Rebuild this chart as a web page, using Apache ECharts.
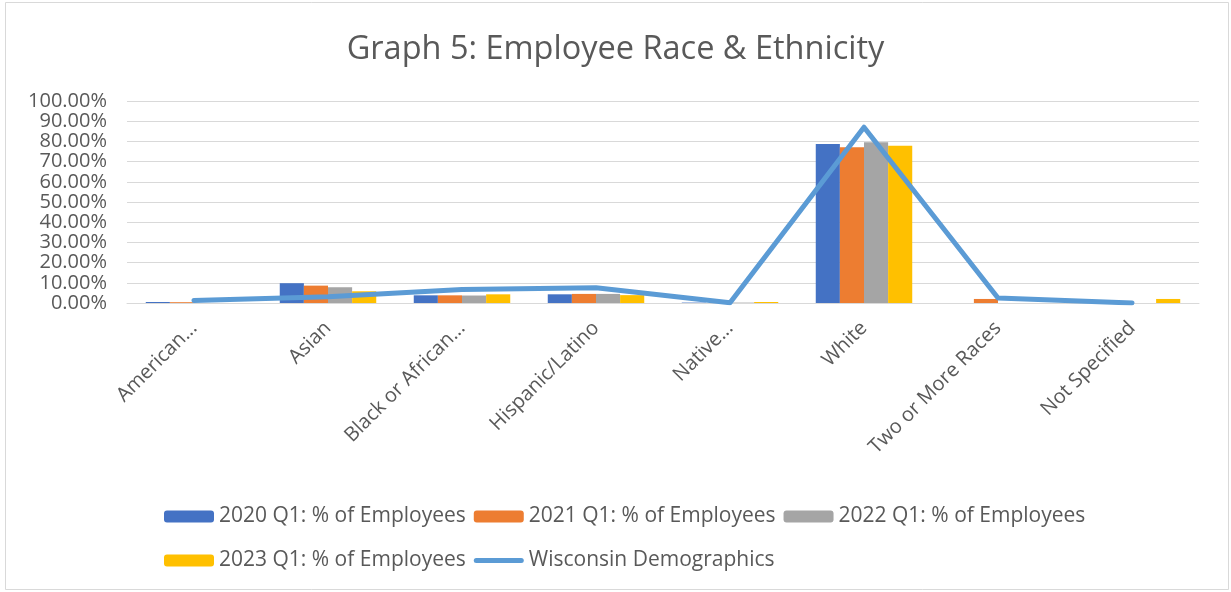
<!DOCTYPE html>
<html>
<head>
<meta charset="utf-8">
<script src="https://cdn.jsdelivr.net/npm/echarts@6/dist/echarts.min.js"></script>
<style>
  html, body { margin: 0; padding: 0; background: #fff; }
  #box { width: 1231px; height: 592px; }
</style>
</head>
<body>
<div id="box"></div>
<script>
// categories as shown on the axis (Excel truncated the long ones)
const categories = ['American...', 'Asian', 'Black or African...', 'Hispanic/Latino', 'Native...', 'White', 'Two or More Races', 'Not Specified'];

// % of employees per quarter
const q2020 = [0.5, 9.8, 3.8, 4.3, 0.2, 78.7, 0, 0];
const q2021 = [0.4, 8.6, 3.8, 4.5, 0, 77.1, 2.0, 0];
const q2022 = [0, 7.8, 3.7, 4.5, 0.2, 79.6, 0, 0];
const q2023 = [0, 5.8, 4.3, 3.9, 0.5, 77.9, 0, 2.0];

// state reference line
const wisconsin = [1.2, 3.1, 6.7, 7.6, 0.1, 87.0, 2.5, 0];

const yTicks = { min: 0, max: 100, step: 10 };

const chartDom = document.getElementById('box');
const myChart = echarts.init(chartDom);

const txt = '#595959';
const font = 'Open Sans, Noto Sans, sans-serif';
const lineIcon = 'path://M2.5,0 L47.5,0 A2.5,2.5 0 0 1 47.5,5 L2.5,5 A2.5,2.5 0 0 1 2.5,0 Z';

const bar = (name, data, color) => ({
  name: name,
  type: 'bar',
  data: data,
  barGap: '0%',
  barCategoryGap: '28%',
  itemStyle: { color: color },
  animation: false
});

const legendBase = {
  left: 159,
  itemWidth: 50,
  itemHeight: 12,
  itemGap: 8,
  textStyle: { fontSize: 21, color: txt, fontFamily: font }
};

var option = {
  backgroundColor: '#fff',
  textStyle: { fontFamily: font },
  title: {
    text: 'Graph 5: Employee Race & Ethnicity',
    left: 'center',
    top: 28,
    textStyle: { fontSize: 32.5, fontWeight: 'normal', color: txt, fontFamily: font }
  },
  graphic: [{
    type: 'rect',
    shape: { x: 5.5, y: 2.5, width: 1223, height: 587 },
    style: { fill: 'none', stroke: '#d9d9d9', lineWidth: 1 },
    silent: true
  }],
  legend: [
    Object.assign({}, legendBase, {
      data: ['2020 Q1: % of Employees', '2021 Q1: % of Employees', '2022 Q1: % of Employees'],
      top: 501
    }),
    Object.assign({}, legendBase, {
      data: ['2023 Q1: % of Employees', { name: 'Wisconsin Demographics', icon: lineIcon }],
      top: 545
    })
  ],
  grid: {
    left: 127,
    right: 32,
    top: 101,
    bottom: 289
  },
  xAxis: {
    type: 'category',
    data: categories,
    axisLine: { lineStyle: { color: '#d9d9d9', width: 1 } },
    axisTick: { show: false },
    axisLabel: {
      rotate: 45,
      interval: 0,
      fontSize: 20,
      color: txt,
      margin: 22,
      fontFamily: font
    }
  },
  yAxis: {
    type: 'value',
    min: yTicks.min,
    max: yTicks.max,
    interval: yTicks.step,
    axisLine: { show: false },
    axisTick: { show: false },
    splitLine: { lineStyle: { color: '#d9d9d9', width: 1 } },
    axisLabel: {
      fontSize: 20,
      color: txt,
      margin: 20,
      fontFamily: font,
      formatter: v => v.toFixed(2) + '%'
    }
  },
  series: [
    bar('2020 Q1: % of Employees', q2020, '#4472C4'),
    bar('2021 Q1: % of Employees', q2021, '#ED7D31'),
    bar('2022 Q1: % of Employees', q2022, '#A5A5A5'),
    bar('2023 Q1: % of Employees', q2023, '#FFC000'),
    {
      name: 'Wisconsin Demographics',
      type: 'line',
      data: wisconsin,
      symbol: 'none',
      z: 5,
      lineStyle: { color: '#5B9BD5', width: 5, cap: 'round', join: 'round' },
      itemStyle: { color: '#5B9BD5' },
      animation: false
    }
  ]
};
option && myChart.setOption(option);
window.addEventListener('resize', function () {
  if (myChart) {
    myChart.resize();
  }
});
</script>
</body>
</html>
